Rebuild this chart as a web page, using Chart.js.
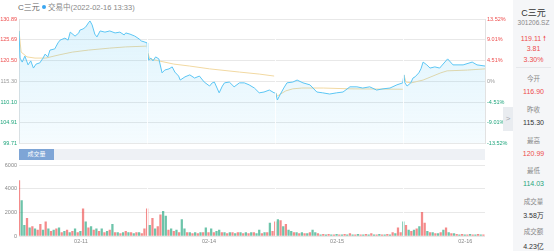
<!DOCTYPE html>
<html>
<head>
<meta charset="utf-8">
<script src="https://cdn.jsdelivr.net/npm/chart.js@4.4.1/dist/chart.umd.min.js"></script>
<style>
  body { margin: 0; width: 554px; height: 251px; background: #fff; overflow: hidden;
         font-family: "Liberation Sans", "Noto Sans CJK SC", sans-serif; position: relative; }
  #priceWrap { position: absolute; left: 0; top: 0; width: 513px; height: 150px; }
  #volWrap { position: absolute; left: 0; top: 160px; width: 513px; height: 91px; }
  .title { position: absolute; left: 18px; top: 1px; font-size: 8px; color: #666; }
  .status { position: absolute; left: 42px; top: 1px; font-size: 7.5px; color: #888; }
  .status i { display: inline-block; width: 4px; height: 4px; border-radius: 50%; background: #3aa6f0; margin-right: 2px; vertical-align: 1px; }
  .band { position: absolute; left: 19px; top: 149px; width: 466px; height: 11px; background: #eef1f5; }
  .band span { position: absolute; left: 0; top: 0; width: 35px; height: 11px; background: #7ea5d6; color: #fff;
               font-size: 6px; line-height: 11px; text-align: center; }
  .tab { position: absolute; left: 503px; top: 107px; width: 10px; height: 24px; background: #e9ecf0;
         color: #a0a6ae; font-size: 8px; line-height: 24px; text-align: center; }
  .side { position: absolute; left: 513px; top: 0; width: 41px; height: 251px; background: #f5f6f8; text-align: center; }
  .side div { position: absolute; left: 0; width: 41px; white-space: nowrap; }
  .lbl { font-size: 6.5px; color: #888; }
  .val { font-size: 7px; }
  .red { color: #ee4d4d; } .green { color: #1fa57c; } .dark { color: #333; }
</style>
</head>
<body>
<div class="title">C三元</div>
<div class="status"><i></i>交易中(2022-02-16 13:33)</div>
<div id="priceWrap"><canvas id="priceChart" width="513" height="150"></canvas></div>
<div class="band"><span>成交量</span></div>
<div id="volWrap"><canvas id="volChart" width="513" height="91"></canvas></div>
<div class="tab">&gt;</div>
<div class="side">
  <div style="top:6px;font-size:9px;color:#333">C三元</div>
  <div style="top:19px;font-size:6.5px;color:#888">301206.SZ</div>
  <div class="val red" style="top:34px">119.11 &#129045;</div>
  <div class="val red" style="top:45px">3.81</div>
  <div class="val red" style="top:56px">3.30%</div>
  <div style="top:67px;left:3px;width:35px;border-top:1px solid #e6e8eb"></div>
  <div class="lbl" style="top:73px">今开</div>
  <div class="val red" style="top:88px">116.90</div>
  <div class="lbl" style="top:104px">昨收</div>
  <div class="val dark" style="top:119px">115.30</div>
  <div class="lbl" style="top:135px">最高</div>
  <div class="val red" style="top:150px">120.99</div>
  <div class="lbl" style="top:165px">最低</div>
  <div class="val green" style="top:180px">114.03</div>
  <div class="lbl" style="top:196px">成交量</div>
  <div class="val dark" style="top:210px">3.58万</div>
  <div class="lbl" style="top:226px">成交额</div>
  <div class="val dark" style="top:241px">4.23亿</div>
</div>
<script>
// minutes since 02-11 open (240 trading minutes per day)
var prevClose = 115.30;
var dayStarts = [240, 480, 720];
var dayLabels = ['02-11', '02-14', '02-15', '02-16'];
var dayLabelMinutes = [116, 356, 596, 836];
var priceTicks = [99.71, 104.91, 110.10, 115.30, 120.50, 125.69, 130.89];
var pctTicks = [-13.52, -9.01, -4.51, 0, 4.51, 9.01, 13.52];
var volTicks = [0, 2000, 4000, 6000];

var priceMinutes = [0, 2, 6, 11, 17, 22, 27, 32, 39, 45, 49, 54, 58, 67, 73, 77, 86, 92, 96, 105, 112, 114, 120, 125, 131, 133, 137, 142, 146, 152, 161, 170, 180, 189, 197, 200, 208, 217, 225, 229, 236, 240,
  241, 243, 247, 251, 256, 262, 268, 273, 281, 287, 292, 299, 302, 311, 320, 329, 338, 347, 357, 362, 366, 371, 375, 381, 385, 394, 403, 413, 422, 431, 441, 450, 459, 469, 478,
  481, 484, 489, 496, 502, 513, 521, 532, 545, 558, 569, 582, 595, 607, 620, 633, 644, 657, 670, 682, 695, 708, 719,
  721, 723, 727, 734, 738, 742, 749, 753, 757, 764, 770, 779, 788, 803, 813, 832, 849, 858, 873];
var prices = [127.9, 121.1, 120.1, 121.6, 119.4, 120.4, 118.6, 119.6, 119.9, 121.1, 122.1, 121.4, 123.1, 123.4, 124.9, 125.6, 126.1, 125.6, 127.6, 126.6, 127.4, 128.1, 128.4, 128.9, 130.1, 130.4, 129.4, 127.1, 126.4, 127.9, 127.6, 127.9, 127.4, 127.6, 126.9, 127.4, 127.1, 126.6, 125.9, 125.4, 125.1, 124.9,
  122.6, 120.6, 121.1, 120.4, 121.4, 120.9, 117.4, 118.1, 118.4, 118.9, 117.6, 116.6, 115.6, 116.4, 116.9, 116.1, 116.6, 115.1, 114.1, 114.9, 115.1, 113.6, 112.4, 114.1, 114.9, 115.1, 113.9, 114.9, 114.9, 114.4, 113.6, 112.4, 112.6, 113.1, 112.4,
  112.4, 110.6, 111.9, 113.6, 114.9, 115.1, 115.6, 114.9, 114.4, 112.6, 112.4, 112.1, 112.4, 112.6, 113.9, 113.9, 113.6, 113.9, 113.1, 113.4, 113.6, 114.4, 114.9,
  116.9, 114.9, 114.1, 114.9, 116.1, 116.4, 117.4, 118.4, 120.1, 119.4, 118.6, 118.9, 118.6, 120.9, 119.4, 119.4, 120.1, 119.4, 119.11];

// daily average price, null = break between days
var avgMinutes = [0, 4, 15, 30, 50, 75, 100, 130, 170, 200, 239, 240,
  241, 245, 262, 290, 320, 357, 413, 450, 478, 480,
  481, 484, 490, 500, 513, 530, 570, 620, 719, 720,
  721, 725, 735, 757, 790, 802, 840, 873];
var avgPrices = [127.9, 122.6, 121.4, 121.1, 121.1, 121.9, 122.6, 123.1, 123.6, 123.9, 124.1, null,
  122.6, 120.9, 120.4, 119.6, 119.1, 118.4, 117.6, 117.1, 116.6, null,
  112.4, 111.6, 112.1, 112.9, 113.4, 113.6, 113.6, 113.4, 113.3, null,
  116.9, 115.1, 114.9, 115.6, 117.4, 117.9, 118.1, 118.4];

// volume every 5 minutes per day, negative = falling (green)
var vol1 = [4700, -3000, -900, 1500, -700, 800, -600, 500, 1000, -500, 1200, -600, 400, -500, 600, -700, 300, -400, 500, -300, 400, -600, 300, -400,
  2300, -1200, 700, -800, 500, -600, 400, -600, 300, -400, 500, -1000, 300, -300, 200, -300, 400, -300, 300, -200, 300, -300, 200, 600];
var vol2 = [2300, -900, 1500, -600, 800, 1800, -2100, -1700, 500, -600, 400, -500, 300, -1400, -600, 300, -300, 200, -300, 200, -300, 300, -700, 300,
  -600, 300, -400, -500, 300, -300, 200, -300, 300, -200, 300, -300, 200, -300, 200, -300, 300, -200, -500, 200, -300, 300, -1100, 400];
var vol3 = [1200, -1400, 1300, -800, 1000, -500, -400, 300, -300, 200, -300, 200, -200, 300, -500, -300, 200, -100, 150, -100, 150, -100, 100, -150,
  100, -100, 150, -100, 200, -100, 100, -150, 100, -100, 150, -100, 200, -100, 100, -150, 100, -100, 150, -100, 300, -200, 700, 300];
var vol4 = [-1200, 900, -500, 400, -500, 600, -800, 2000, 1100, -400, 300, -300, 200, -200, 300, -500, 700, -300, 200, -200, 150, -100, 150, -100,
  100, -150, 100, -100, 150, -100, 100];

var RED = '#ee4d4d', GREEN = '#1fa57c', GRAY = '#999';
var FONT = '"Liberation Sans", "Noto Sans CJK SC", sans-serif';
var TICK_FONT = { size: 5.5, family: FONT };

var pricePoints = priceMinutes.map(function (t, i) { return { x: t, y: prices[i] }; });
var avgPoints = avgMinutes.map(function (t, i) { return { x: t, y: avgPrices[i] }; });

var volPoints = [];
[vol1, vol2, vol3, vol4].forEach(function (arr, d) {
  arr.forEach(function (v, i) {
    volPoints.push({ x: d * 240 + i * 5, y: Math.abs(v), up: v >= 0 });
  });
});

var daySeparators = {
  id: 'daySeparators',
  afterDatasetsDraw: function (chart) {
    var ctx = chart.ctx, area = chart.chartArea, xs = chart.scales.x;
    ctx.save();
    ctx.strokeStyle = 'rgba(255,255,255,0.9)';
    ctx.lineWidth = 1;
    dayStarts.forEach(function (t) {
      var px = Math.round(xs.getPixelForValue(t)) + 0.5;
      ctx.beginPath();
      ctx.moveTo(px, area.top + 1);
      ctx.lineTo(px, area.bottom);
      ctx.stroke();
    });
    ctx.restore();
  }
};

function sideColor(v, base) {
  if (Math.abs(v - base) < 1e-6) return GRAY;
  return v > base ? RED : GREEN;
}

new Chart(document.getElementById('priceChart'), {
  type: 'line',
  data: {
    datasets: [{
      data: pricePoints,
      borderColor: '#5cc6f4',
      borderWidth: 1,
      pointRadius: 0,
      tension: 0,
      fill: 'start',
      backgroundColor: function (c) {
        var area = c.chart.chartArea;
        if (!area) return 'rgba(92,198,244,0.12)';
        var g = c.chart.ctx.createLinearGradient(0, area.top, 0, area.bottom);
        g.addColorStop(0, 'rgba(92,198,244,0.20)');
        g.addColorStop(1, 'rgba(92,198,244,0.06)');
        return g;
      }
    }, {
      data: avgPoints,
      borderColor: '#f2d9a2',
      borderWidth: 1,
      pointRadius: 0,
      spanGaps: false,
      fill: false
    }]
  },
  options: {
    responsive: false,
    animation: false,
    events: [],
    layout: { padding: { top: 19, bottom: 6.5, left: 0, right: 0 } },
    plugins: { legend: { display: false }, tooltip: { enabled: false } },
    scales: {
      x: { type: 'linear', min: 0, max: 873, display: false },
      y: {
        position: 'left', min: 99.71, max: 130.89,
        afterFit: function (a) { a.width = 19; },
        afterBuildTicks: function (a) { a.ticks = priceTicks.map(function (v) { return { value: v }; }); },
        grid: { color: '#e8e8e8', drawTicks: false },
        border: { display: true, color: '#e2e2e2' },
        ticks: {
          padding: 2, font: TICK_FONT,
          color: function (c) { return sideColor(c.tick.value, prevClose); },
          callback: function (v) { return v.toFixed(2); }
        }
      },
      y2: {
        position: 'right', min: -13.52, max: 13.52,
        afterFit: function (a) { a.width = 28; },
        afterBuildTicks: function (a) { a.ticks = pctTicks.map(function (v) { return { value: v }; }); },
        grid: { display: false, drawTicks: false },
        border: { display: true, color: '#e2e2e2' },
        ticks: {
          padding: 2, font: TICK_FONT,
          color: function (c) { return sideColor(c.tick.value, 0); },
          callback: function (v) { return v === 0 ? '0%' : v.toFixed(2) + '%'; }
        }
      }
    }
  },
  plugins: [daySeparators]
});

new Chart(document.getElementById('volChart'), {
  type: 'bar',
  data: {
    datasets: [{
      data: volPoints,
      barThickness: 1.6,
      grouped: false,
      backgroundColor: function (c) {
        var p = c.raw;
        return p && p.up ? 'rgba(238,77,77,0.65)' : 'rgba(31,165,124,0.65)';
      }
    }]
  },
  options: {
    responsive: false,
    animation: false,
    events: [],
    layout: { padding: { top: 5, bottom: 2, left: 0, right: 28 } },
    plugins: { legend: { display: false }, tooltip: { enabled: false } },
    scales: {
      x: {
        type: 'linear', min: 0, max: 873, offset: false,
        afterFit: function (a) { a.height = 13; },
        afterBuildTicks: function (a) { a.ticks = dayLabelMinutes.map(function (v) { return { value: v }; }); },
        grid: { display: false, drawTicks: false },
        border: { display: false },
        ticks: {
          padding: 2, maxRotation: 0, autoSkip: false, color: '#888', font: TICK_FONT,
          callback: function (v) { return dayLabels[dayLabelMinutes.indexOf(v)]; }
        }
      },
      y: {
        min: 0, max: 6000,
        afterFit: function (a) { a.width = 19; },
        afterBuildTicks: function (a) { a.ticks = volTicks.map(function (v) { return { value: v }; }); },
        grid: { color: '#e8e8e8', drawTicks: false },
        border: { display: false },
        ticks: { padding: 2, color: '#888', font: TICK_FONT, callback: function (v) { return String(v); } }
      }
    }
  },
  plugins: [daySeparators]
});
</script>
</body>
</html>
